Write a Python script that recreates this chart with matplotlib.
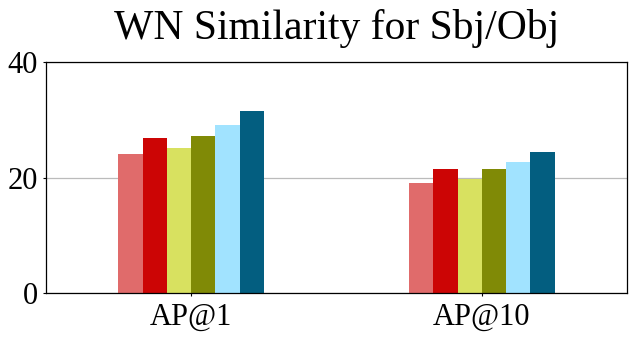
import matplotlib.pyplot as plt
import numpy as np

plt.rcParams['font.family'] = ['Liberation Serif', 'DejaVu Serif']

groups = ['AP@1', 'AP@10']
series = ['s1', 's2', 's3', 's4', 's5', 's6']
values = [
    [24.1, 19.1],
    [26.9, 21.5],
    [25.2, 19.8],
    [27.2, 21.5],
    [29.1, 22.7],
    [31.6, 24.5],
]
colors = ['#e06b6b', '#cc0505', '#d8e160', '#808a06', '#a1e3ff', '#035e80']

fig = plt.figure(figsize=(6.34, 3.37), dpi=100)
ax = fig.add_axes([45.7 / 634, 1 - 293.3 / 337, 581.6 / 634, 231 / 337])

x = np.arange(len(groups))
w = 0.5 / len(series)
for i, (vals, c) in enumerate(zip(values, colors)):
    ax.bar(x - 0.25 + w * (i + 0.5), vals, w, color=c, label=series[i], zorder=2)

ax.set_xlim(-0.5, 1.5)
ax.set_ylim(0, 40)
ax.set_yticks([0, 20, 40])
ax.set_xticks(x)
ax.set_xticklabels(groups)
ax.tick_params(labelsize=22, length=2.5, width=0.8)
ax.tick_params(axis='x', pad=4.5)
ax.tick_params(axis='y', pad=3.3)
ax.yaxis.grid(True, color='#bbbbbb', linewidth=0.9, zorder=0)
ax.set_axisbelow(True)
for s in ax.spines.values():
    s.set_linewidth(0.9)

# title centred over the axes, not the figure
fig.text(336.5 / 634, 1 - 39 / 337, 'WN Similarity for Sbj/Obj', ha='center', va='baseline', fontsize=30)

fig.savefig('out.png', dpi=100)
